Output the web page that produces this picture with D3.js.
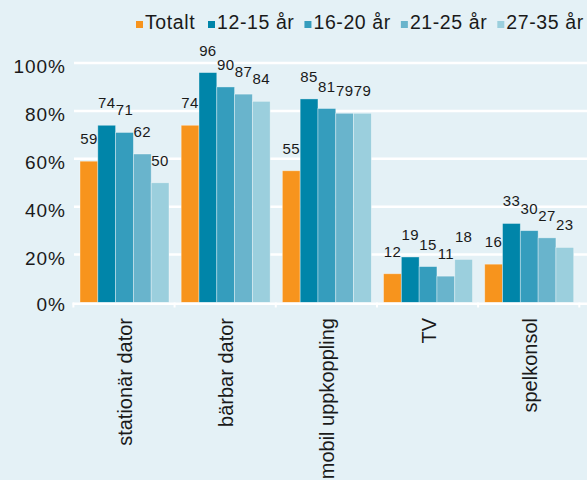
<!DOCTYPE html>
<html><head><meta charset="utf-8">
<script src="https://cdn.jsdelivr.net/npm/d3@7"></script>
<style>
html,body{margin:0;padding:0;background:#e4f1f6;}
svg{display:block;font-family:"Liberation Sans",Arial,Helvetica,sans-serif;}
</style></head>
<body><svg id="c" width="587" height="480"></svg>
<script>
const categories = ["stationär dator","bärbar dator","mobil uppkoppling","TV","spelkonsol"];
const seriesNames = ["Totalt","12-15 år","16-20 år","21-25 år","27-35 år"];
const totalt  = [59,74,55,12,16];
const age1215 = [74,96,85,19,33];
const age1620 = [71,90,81,15,30];
const age2125 = [62,87,79,11,27];
const age2735 = [50,84,79,18,23];
const yTicks = [0,20,40,60,80,100];
const colors = ["#f7941d","#0085a9","#359dbd","#69b4cc","#9bcfdd"];

const seriesValues = [totalt, age1215, age1620, age2125, age2735];
const W = 587, H = 480;
const svg = d3.select("#c");
svg.append("rect").attr("width",W).attr("height",H).attr("fill","#e4f1f6");

const x0 = d3.scaleBand().domain(categories).range([73.4, 579.3]).padding(0);
const x1 = d3.scaleBand().domain(seriesNames).range([6.6, 95.6]).padding(0);
const y = d3.scaleLinear().domain([0,100]).range([302.5, 63]);

// gridlines
svg.append("g").selectAll("line").data(yTicks.filter(d=>d>0)).join("line")
  .attr("x1",74).attr("x2",W).attr("y1",d=>y(d)).attr("y2",d=>y(d))
  .attr("stroke","#fff").attr("stroke-width",2.5);

// y tick labels
svg.append("g").selectAll("text").data(yTicks).join("text")
  .attr("x",66).attr("y",d=>y(d)+(d===0?8:10))
  .attr("text-anchor","end").attr("font-size",19).attr("letter-spacing",1)
  .attr("fill","#1a1a1a")
  .text(d=>d+"%");

// bars
const groups = svg.append("g").selectAll("g").data(categories).join("g")
  .attr("transform",d=>`translate(${x0(d)},0)`);
seriesNames.forEach((s,si)=>{
  groups.append("rect")
    .attr("x",x1(s)).attr("width",x1.bandwidth())
    .attr("y",(d,ci)=>y(seriesValues[si][ci]))
    .attr("height",(d,ci)=>y(0)-y(seriesValues[si][ci]))
    .attr("fill",colors[si])
    .attr("stroke","rgba(255,255,255,0.45)").attr("stroke-width",0.8);
});
seriesNames.forEach((s,si)=>{
  groups.append("text")
    .attr("x",x1(s)+x1.bandwidth()/2)
    .attr("y",(d,ci)=>y(seriesValues[si][ci])-17)
    .attr("text-anchor","middle").attr("font-size",15).attr("letter-spacing",0.4)
    .attr("fill","#1a1a1a")
    .text((d,ci)=>seriesValues[si][ci]);
});

// x axis
const xa = svg.append("g");
xa.append("line").attr("x1",72.7).attr("x2",W).attr("y1",303.7).attr("y2",303.7)
  .attr("stroke","#fff").attr("stroke-width",2.5);
const tickXs = categories.map(c=>x0(c)).concat([x0.range()[1]]);
xa.selectAll("line.t").data(tickXs).join("line").attr("class","t")
  .attr("x1",d=>d).attr("x2",d=>d).attr("y1",302.5).attr("y2",307.5)
  .attr("stroke","#fff").attr("stroke-width",2);
xa.selectAll("text").data(categories).join("text")
  .attr("transform",d=>`translate(${x0(d)+x0.bandwidth()/2+1},318) rotate(-90)`)
  .attr("text-anchor","end").attr("dominant-baseline","central")
  .attr("font-size",20).attr("fill","#1a1a1a")
  .text(d=>d);

// legend
const lg = svg.append("g");
let lx = 136;
seriesNames.forEach((s,i)=>{
  lg.append("rect").attr("x",lx).attr("y",21).attr("width",7).attr("height",7).attr("fill",colors[i]);
  const t = lg.append("text").attr("x",lx+9).attr("y",29).attr("font-size",19.5)
    .attr("letter-spacing",0.6).attr("fill","#1a1a1a").text(s);
  const w = t.node().getComputedTextLength();
  lx += Math.max(w + 19, 72);
});
</script></body></html>
